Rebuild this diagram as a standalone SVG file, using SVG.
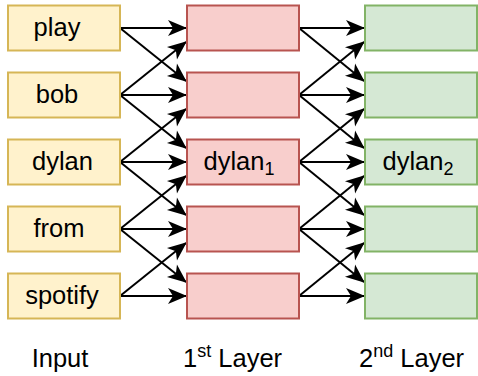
<svg xmlns="http://www.w3.org/2000/svg" width="478" height="376" viewBox="0 0 478 376">
<style>
.t{font-family:"Liberation Sans",Arial,Helvetica,sans-serif;font-size:25.5px;fill:#000}
.in{fill:#fff2cc;stroke:#d6b656;stroke-width:2}
.l1{fill:#f8cecc;stroke:#b85450;stroke-width:2}
.l2{fill:#d5e8d4;stroke:#82b366;stroke-width:2}
.e{stroke:#000;stroke-width:2;fill:none;marker-end:url(#a)}
</style>
<defs>
<marker id="a" markerUnits="userSpaceOnUse" markerWidth="19" markerHeight="16" refX="18" refY="8" orient="auto" overflow="visible">
<path d="M0,0 L19,8 L0,16 L5,8 z" fill="#000"/>
</marker>
</defs>
<rect width="478" height="376" fill="#fff"/>
<g id="connectors">
<path class="e" d="M120,28 L186,28"/>
<path class="e" d="M120,28 L186,81"/>
<path class="e" d="M120,95 L186,42"/>
<path class="e" d="M120,95 L186,95"/>
<path class="e" d="M120,95 L186,148"/>
<path class="e" d="M120,162 L186,109"/>
<path class="e" d="M120,162 L186,162"/>
<path class="e" d="M120,162 L186,215"/>
<path class="e" d="M120,229 L186,176"/>
<path class="e" d="M120,229 L186,229"/>
<path class="e" d="M120,229 L186,282"/>
<path class="e" d="M120,296 L186,243"/>
<path class="e" d="M120,296 L186,296"/>
<path class="e" d="M299,28 L364,28"/>
<path class="e" d="M299,28 L364,81"/>
<path class="e" d="M299,95 L364,42"/>
<path class="e" d="M299,95 L364,95"/>
<path class="e" d="M299,95 L364,148"/>
<path class="e" d="M299,162 L364,109"/>
<path class="e" d="M299,162 L364,162"/>
<path class="e" d="M299,162 L364,215"/>
<path class="e" d="M299,229 L364,176"/>
<path class="e" d="M299,229 L364,229"/>
<path class="e" d="M299,229 L364,282"/>
<path class="e" d="M299,296 L364,243"/>
<path class="e" d="M299,296 L364,296"/>
</g>
<g id="in-play"><rect class="in" x="8" y="5.5" width="112" height="45"/><text class="t" x="57" y="36" text-anchor="middle">play</text></g>
<g id="in-bob"><rect class="in" x="8" y="72.5" width="112" height="45"/><text class="t" x="57" y="103" text-anchor="middle">bob</text></g>
<g id="in-dylan"><rect class="in" x="8" y="139.5" width="112" height="45"/><text class="t" x="62.5" y="170" text-anchor="middle">dylan</text></g>
<g id="in-from"><rect class="in" x="8" y="206.5" width="112" height="45"/><text class="t" x="59" y="237" text-anchor="middle">from</text></g>
<g id="in-spotify"><rect class="in" x="8" y="273.5" width="112" height="45"/><text class="t" x="62" y="304" text-anchor="middle">spotify</text></g>
<g id="h1-1"><rect class="l1" x="187" y="5.5" width="112" height="45"/></g>
<g id="h1-2"><rect class="l1" x="187" y="72.5" width="112" height="45"/></g>
<g id="h1-3"><rect class="l1" x="187" y="139.5" width="112" height="45"/><text class="t" x="239" y="170" text-anchor="middle">dylan<tspan font-size="18" dy="5">1</tspan></text></g>
<g id="h1-4"><rect class="l1" x="187" y="206.5" width="112" height="45"/></g>
<g id="h1-5"><rect class="l1" x="187" y="273.5" width="112" height="45"/></g>
<g id="h2-1"><rect class="l2" x="365" y="5.5" width="112" height="45"/></g>
<g id="h2-2"><rect class="l2" x="365" y="72.5" width="112" height="45"/></g>
<g id="h2-3"><rect class="l2" x="365" y="139.5" width="112" height="45"/><text class="t" x="418" y="170" text-anchor="middle">dylan<tspan font-size="18" dy="5">2</tspan></text></g>
<g id="h2-4"><rect class="l2" x="365" y="206.5" width="112" height="45"/></g>
<g id="h2-5"><rect class="l2" x="365" y="273.5" width="112" height="45"/></g>
<g id="label-input"><text class="t" x="60" y="367" text-anchor="middle">Input</text></g>
<g id="label-1st"><text class="t" x="183" y="367">1<tspan font-size="18" dy="-10">st</tspan><tspan dy="10"> Layer</tspan></text></g>
<g id="label-2nd"><text class="t" x="359" y="367">2<tspan font-size="18" dy="-10">nd</tspan><tspan dy="10"> Layer</tspan></text></g>
</svg>
